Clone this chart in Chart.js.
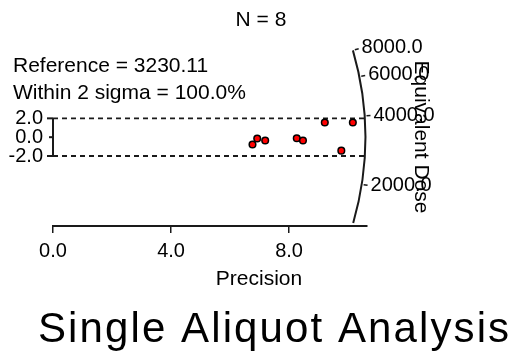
<!DOCTYPE html>
<html><head><meta charset="utf-8">
<script src="https://cdn.jsdelivr.net/npm/chart.js@4/dist/chart.umd.min.js"></script>
<style>html,body{margin:0;padding:0;background:#fff}#wrap{width:522px;height:358px;position:relative}</style>
</head><body><div id="wrap"><canvas id="c"></canvas></div>
<script>
const precision = [6.76, 6.92, 7.19, 8.26, 8.47, 9.21, 10.16, 9.77];
const zScores = [-0.77, -0.14, -0.35, -0.11, -0.35, 1.56, 1.56, -1.43];
const xTicks = [0, 4, 8];
const zTicks = [-2, 0, 2];
const doseTicks = [8000, 6000, 4000, 2000];
const referenceDose = 3230.11;
const nAliquots = 8;
const withinPct = 100.0;
const sigmaBand = 2;
const arcRadius = 10.58;

const FONT = '"Liberation Sans", Arial, sans-serif';
const INK = '#1a1a1a';

const radialPlugin = {
  id: 'radial',
  beforeDatasetsDraw(chart) {
    const {ctx, chartArea, scales: {x, y}} = chart;
    const x0 = x.getPixelForValue(0), y0 = y.getPixelForValue(0);
    const R = x.getPixelForValue(arcRadius) - x0;
    const kx = x.getPixelForValue(1) - x0;
    const ky = y0 - y.getPixelForValue(1);
    ctx.save();
    ctx.strokeStyle = INK;
    // +/- 2 sigma dashed lines
    ctx.lineWidth = 1.8;
    ctx.setLineDash([5, 4]);
    for (const z of [sigmaBand, -sigmaBand]) {
      const py = y.getPixelForValue(z);
      const dy = py - y0;
      const xe = x0 + Math.sqrt(R * R - dy * dy);
      ctx.beginPath(); ctx.moveTo(x0, py); ctx.lineTo(xe, py); ctx.stroke();
    }
    ctx.setLineDash([]);
    // left z bracket
    ctx.lineWidth = 2;
    const yt = y.getPixelForValue(Math.max(...zTicks));
    const yb = y.getPixelForValue(Math.min(...zTicks));
    ctx.beginPath(); ctx.moveTo(x0, yt); ctx.lineTo(x0, yb); ctx.stroke();
    for (const z of zTicks) {
      const py = y.getPixelForValue(z);
      const len = z === 0 ? 4 : 6;
      ctx.beginPath(); ctx.moveTo(x0 - len, py); ctx.lineTo(x0, py); ctx.stroke();
    }
    // radial dose arc
    const angOf = d => Math.atan(Math.log(d / referenceDose) * ky / kx);
    const cStart = -angOf(Math.max(...doseTicks));
    const cEnd = Math.asin((chartArea.bottom - 3 - y0) / R);
    ctx.beginPath(); ctx.arc(x0, y0, R, cStart, cEnd, false); ctx.stroke();
    // dose ticks and labels
    ctx.lineWidth = 1.5;
    ctx.fillStyle = '#000';
    ctx.font = '20px ' + FONT;
    ctx.textAlign = 'left';
    ctx.textBaseline = 'middle';
    for (const d of doseTicks) {
      const c = -angOf(d);
      const cs = Math.cos(c), sn = Math.sin(c);
      ctx.beginPath();
      ctx.moveTo(x0 + (R + 2) * cs, y0 + (R + 2) * sn);
      ctx.lineTo(x0 + (R + 6) * cs, y0 + (R + 6) * sn);
      ctx.stroke();
      ctx.fillText(d.toFixed(1), x0 + (R + 9) * cs, y0 + (R + 9) * sn);
    }
    ctx.restore();
  },
  afterDraw(chart) {
    const {ctx} = chart;
    ctx.save();
    ctx.fillStyle = '#000';
    ctx.font = '21px ' + FONT;
    ctx.textBaseline = 'alphabetic';
    ctx.textAlign = 'center';
    ctx.fillText('N = ' + nAliquots, 261, 26);
    ctx.fillText('Precision', 259, 285);
    ctx.textAlign = 'left';
    ctx.fillText('Reference = ' + referenceDose.toFixed(2), 13, 72);
    ctx.fillText('Within ' + sigmaBand + ' sigma = ' + withinPct.toFixed(1) + '%', 13, 99);
    ctx.save();
    ctx.translate(421, 137);
    ctx.rotate(Math.PI / 2);
    ctx.textAlign = 'center';
    ctx.textBaseline = 'middle';
    ctx.fillText('Equivalent Dose', 0, 0);
    ctx.restore();
    ctx.font = '42px ' + FONT;
    try { ctx.letterSpacing = '2.1px'; } catch (e) {}
    ctx.textAlign = 'left';
    ctx.fillText('Single Aliquot Analysis', 38, 342);
    ctx.restore();
  }
};

new Chart(document.getElementById('c'), {
  type: 'scatter',
  data: {
    datasets: [{
      data: precision.map((p, i) => ({x: p, y: zScores[i]})),
      pointRadius: 3.3,
      pointHoverRadius: 3.3,
      pointBackgroundColor: '#ff0000',
      pointBorderColor: '#000',
      pointBorderWidth: 1.5
    }]
  },
  options: {
    responsive: true,
    maintainAspectRatio: false,
    animation: false,
    events: [],
    layout: {padding: {left: 0, right: 155, top: 43, bottom: 0}},
    plugins: {legend: {display: false}, tooltip: {enabled: false}, title: {display: false}},
    scales: {
      x: {
        type: 'linear', min: 0, max: 10.64,
        afterBuildTicks: s => { s.ticks = xTicks.map(v => ({value: v})); },
        afterFit: s => { s.height = 132; },
        ticks: {callback: v => Number(v).toFixed(1), font: {size: 20, family: FONT}, color: '#000', padding: 6, maxRotation: 0, autoSkip: false},
        grid: {display: true, drawOnChartArea: false, drawTicks: true, tickLength: 7, color: INK, lineWidth: 1.5},
        border: {display: true, color: INK, width: 2}
      },
      y: {
        type: 'linear', min: -9.43, max: 10.0,
        afterBuildTicks: s => { s.ticks = zTicks.map(v => ({value: v})); },
        afterFit: s => { s.width = 53; },
        ticks: {callback: v => Number(v).toFixed(1), font: {size: 20, family: FONT}, color: '#000', padding: 10, autoSkip: false},
        grid: {display: false, drawTicks: false},
        border: {display: false}
      }
    }
  },
  plugins: [radialPlugin]
});
</script>
</body></html>
